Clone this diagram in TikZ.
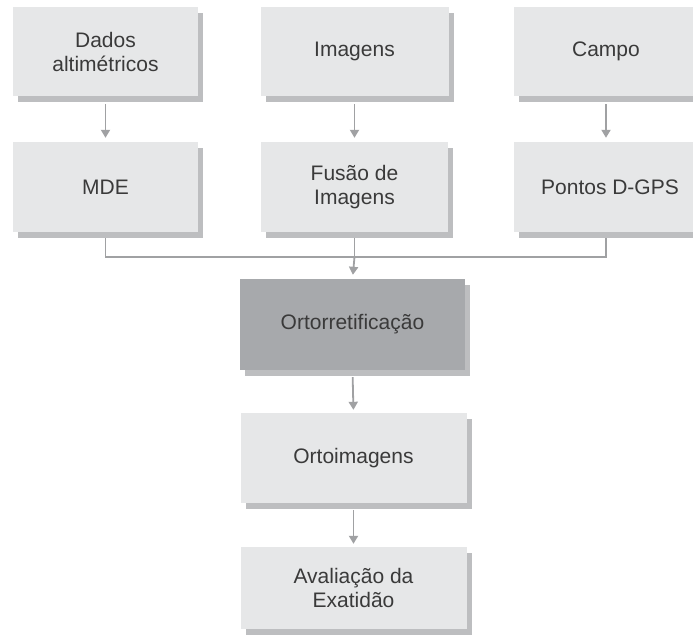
\documentclass[tikz,border=0pt]{standalone}
\usepackage{fontspec}
\setmainfont{Liberation Sans}
\usetikzlibrary{arrows.meta,shadows}
\definecolor{boxfill}{HTML}{E6E7E8}
\definecolor{shadowc}{HTML}{BDBEC0}
\definecolor{darkfill}{HTML}{A7A9AC}
\definecolor{linec}{HTML}{A0A1A3}
\definecolor{textc}{HTML}{3A3A3A}
\tikzset{
  flowbox/.style={fill=boxfill, inner sep=0pt, align=center, text=textc,
    font=\fontsize{21}{24}\selectfont,
    drop shadow={fill=shadowc, opacity=1, shadow xshift=5pt, shadow yshift=-6pt}},
  darkbox/.style={flowbox, fill=darkfill},
  ln/.style={draw=linec, line width=1.8pt},
  arr/.style={ln, -{Triangle[width=9pt,length=8pt]}}
}
\begin{document}
\begin{tikzpicture}[x=1pt,y=-1pt]
\path[use as bounding box, clip] (0,0) rectangle (693,638);
\fill[white] (0,0) rectangle (693,638);
% top row
\node[flowbox, minimum width=185pt, minimum height=89pt] (d1) at (105.5,51.5) {Dados\\altimétricos};
\node[flowbox, minimum width=188pt, minimum height=89pt] (d2) at (354.5,51.5) {Imagens};
\node[flowbox, minimum width=184pt, minimum height=89pt] (d3) at (606,51.5) {Campo};
% second row
\node[flowbox, minimum width=185pt, minimum height=90pt] (m1) at (105.5,187) {MDE};
\node[flowbox, minimum width=187pt, minimum height=90pt] (m2) at (354.5,187) {Fusão de\\Imagens};
\node[flowbox, minimum width=184pt, minimum height=90pt] (m3) at (606,187) {\hspace*{8pt}Pontos D-GPS};
% centre column
\node[darkbox, minimum width=225pt, minimum height=91pt] (or) at (352.5,324.5) {Ortorretificação};
\node[flowbox, minimum width=226pt, minimum height=90pt] (oi) at (353.5,458) {Ortoimagens};
\node[flowbox, minimum width=226pt, minimum height=82pt] (av) at (353.5,588) {Avaliação da\\Exatidão};
% junction
\coordinate (j) at (354.5,257);
% arrows row 1 -> row 2
\draw[arr, shorten <=8pt, shorten >=4pt] (d1.south) -- (m1.north);
\draw[arr, shorten <=8pt, shorten >=4pt] (d2.south) -- (m2.north);
\draw[arr, shorten <=8pt, shorten >=4pt] (d3.south) -- (m3.north);
% merge
\draw[ln, shorten <=6pt] (m1.south) -- (m1.south |- j) -- (m3.south |- j) -- ([yshift=-6pt]m3.south);
\draw[ln, shorten <=6pt] (m2.south) -- (j);
\draw[arr, shorten >=4pt] (j) -- (or.north);
% lower arrows
\draw[arr, shorten <=7pt, shorten >=3pt] (or.south) -- (oi.north);
\draw[arr, shorten <=7pt, shorten >=3pt] (oi.south) -- (av.north);
\end{tikzpicture}
\end{document}
